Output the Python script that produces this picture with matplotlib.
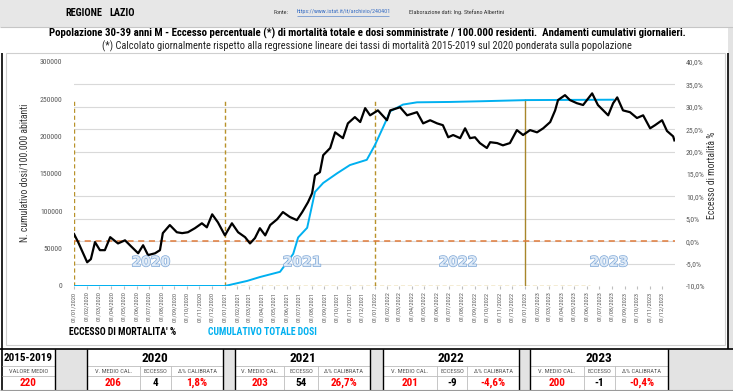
import matplotlib
matplotlib.use('Agg')
import matplotlib.pyplot as plt
import matplotlib.dates as mdates
from matplotlib.ticker import FuncFormatter, MultipleLocator
from matplotlib.patches import Rectangle
from matplotlib import font_manager
import matplotlib.patheffects as pe
import pandas as pd

names = {f.name for f in font_manager.fontManager.ttflist}
NARROW = next((n for n in ['Liberation Sans Narrow', 'Roboto Condensed', 'Open Sans Condensed', 'Liberation Sans'] if n in names), 'DejaVu Sans')
plt.rcParams['font.family'] = [NARROW, 'DejaVu Sans']

# ---------------- data ----------------
excess_dates = ['2020-01-01', '2020-01-11', '2020-02-02', '2020-02-11', '2020-02-21', '2020-03-04', '2020-03-16',
                '2020-03-29', '2020-04-17', '2020-05-04', '2020-05-16', '2020-06-05', '2020-06-17', '2020-06-29',
                '2020-07-16', '2020-07-28', '2020-08-04', '2020-08-21', '2020-09-07', '2020-09-20', '2020-10-04',
                '2020-10-21', '2020-11-07', '2020-11-19', '2020-12-02', '2020-12-16', '2021-01-02', '2021-01-19',
                '2021-02-03', '2021-02-20', '2021-03-04', '2021-03-16', '2021-03-28', '2021-04-10', '2021-04-22',
                '2021-05-09', '2021-05-23', '2021-06-09', '2021-06-26', '2021-07-09', '2021-07-23', '2021-08-02',
                '2021-08-09', '2021-08-21', '2021-08-29', '2021-09-15', '2021-09-27', '2021-10-16', '2021-10-28',
                '2021-11-14', '2021-11-27', '2021-12-09', '2021-12-21', '2022-01-09', '2022-01-31', '2022-02-08',
                '2022-03-04', '2022-03-21', '2022-04-14', '2022-04-29', '2022-05-16', '2022-06-02', '2022-06-16',
                '2022-06-29', '2022-07-11', '2022-07-28', '2022-08-09', '2022-08-21', '2022-09-02', '2022-09-14',
                '2022-10-01', '2022-10-09', '2022-10-26', '2022-11-09', '2022-11-26', '2022-12-13', '2022-12-28',
                '2023-01-14', '2023-01-31', '2023-02-15', '2023-03-04', '2023-03-16', '2023-03-23', '2023-04-09',
                '2023-04-21', '2023-05-08', '2023-05-23', '2023-06-14', '2023-06-28', '2023-07-23', '2023-08-04',
                '2023-08-14', '2023-08-28', '2023-09-14', '2023-10-01', '2023-10-16', '2023-11-02', '2023-11-14',
                '2023-12-01', '2023-12-13', '2023-12-28', '2023-12-31']
excess_vals = [1.6, -0.2, -4.7, -4.0, -0.2, -2.0, -2.0,
               0.9, -0.5, 0.2, -0.9, -2.7, -0.9, -3.1,
               -2.7, -2.0, 1.8, 3.6, 2.0, 1.8, 2.0,
               2.9, 4.0, 3.1, 6.0, 4.2, 1.3, 4.0,
               2.0, 0.9, -0.5, 0.7, 2.9, 1.3, 3.6,
               4.9, 6.5, 5.4, 4.7, 6.5, 8.7, 10.7,
               14.7, 15.4, 19.2, 20.8, 24.3, 23.0, 26.3,
               27.7, 26.6, 29.7, 28.1, 29.2, 27.0, 29.2,
               29.9, 28.1, 28.8, 26.3, 27.0, 26.3, 25.9,
               23.2, 23.7, 23.0, 25.2, 23.0, 23.2, 21.9,
               20.8, 22.1, 21.9, 21.4, 21.9, 24.8, 23.7,
               24.8, 24.3, 25.2, 26.6, 29.2, 31.5, 32.6,
               31.5, 30.8, 30.4, 33.0, 30.4, 28.1, 30.8,
               32.1, 29.2, 28.8, 27.5, 28.1, 25.2, 25.9,
               27.0, 24.6, 23.4, 22.5]

dose_dates = ['2020-01-01', '2021-01-02', '2021-02-25', '2021-03-28', '2021-05-16', '2021-06-17', '2021-06-29',
              '2021-07-21', '2021-08-09', '2021-08-29', '2021-10-02', '2021-11-02', '2021-12-13', '2022-01-02',
              '2022-01-22', '2022-02-08', '2022-03-11', '2022-04-14', '2022-07-04', '2022-09-22', '2023-01-07',
              '2023-08-04']
dose_vals = [0, 0, 6800, 12000, 19000, 43000, 65000,
             78000, 126000, 138000, 151000, 162000, 169000, 189000,
             213000, 234000, 243000, 246000, 246500, 247500, 249000,
             249500]

year_starts = ['2020-01-01', '2021-01-01', '2022-01-01', '2023-01-01']
year_labels = ['2020', '2021', '2022', '2023']
year_label_dates = ['2020-07-06', '2021-07-09', '2022-07-23', '2023-07-25']

base_period = '2015-2019'
base_value = 220
tab_years = ['2020', '2021', '2022', '2023']
tab_vmedio = [206, 203, 201, 200]
tab_eccesso = [4, 54, -9, -1]
tab_delta = ['1,8%', '26,7%', '-4,6%', '-0,4%']

W, H = 733, 391
fig = plt.figure(figsize=(W / 100, H / 100), dpi=100)
fig.patch.set_facecolor('white')

bg = fig.add_axes([0, 0, 1, 1])
bg.set_xlim(0, W)
bg.set_ylim(H, 0)
bg.axis('off')
bg.set_zorder(0)

def rect(x0, y0, x1, y1, fc='none', ec='none', lw=0.8, z=1):
    bg.add_patch(Rectangle((x0, y0), x1 - x0, y1 - y0, facecolor=fc, edgecolor=ec, linewidth=lw, zorder=z))

def line(x0, y0, x1, y1, c='black', lw=1.0, z=3):
    bg.plot([x0, x1], [y0, y1], color=c, lw=lw, zorder=z, solid_capstyle='butt')

GRAYF = '#e3e3e3'
# header band
rect(0, 0, W, 27, fc='#e7e7e7', ec='none')
line(0, 27, W, 27, c='#c6c6c6', lw=0.8)
bg.text(65, 13, 'REGIONE', fontsize=7.4, fontweight='bold', ha='left', va='center')
bg.text(109, 13, 'LAZIO', fontsize=7.4, fontweight='bold', ha='left', va='center')
bg.text(273, 12, 'Fonte:', fontsize=4.4, ha='left', va='center', color='#333333')
bg.text(297, 12, 'https://www.istat.it/it/archivio/240401', fontsize=4.4, ha='left', va='center',
        color='#3a6fc4')
line(297, 15.5, 389, 15.5, c='#3a6fc4', lw=0.4)
bg.text(409, 12, 'Elaborazione dati: Ing. Stefano Albertini', fontsize=4.4, ha='left', va='center',
        color='#333333')

# titles
bg.text(367, 33.5, 'Popolazione 30-39 anni M - Eccesso percentuale (*) di mortalità totale e dosi somministrate / '
        '100.000 residenti.  Andamenti cumulativi giornalieri.', fontsize=7.8, fontweight='bold',
        ha='center', va='center')
bg.text(367, 46, '(*) Calcolato giornalmente rispetto alla regressione lineare dei tassi di mortalità 2015-2019 '
        'sul 2020 ponderata sulla popolazione', fontsize=7.5, ha='center', va='center', color='#222222')

# frames
rect(728, 27, W, 349, fc=GRAYF)
rect(6, 53, 725, 345, fc='white', ec='#cfcfcf', lw=0.8)
line(2, 53, 2, H, c='black', lw=1.2)
line(728, 53, 728, 349, c='black', lw=1.2)

# legend-like texts
bg.text(69, 332, "ECCESSO DI MORTALITA' %", fontsize=7.0, fontweight='bold', ha='left', va='center',
        color='black')
bg.text(208, 332, 'CUMULATIVO TOTALE DOSI', fontsize=7.0, fontweight='bold', ha='left', va='center',
        color='#00b0f0')

# ---------------- table ----------------
ytop, yrow1, yrow2, ybot = 349, 366, 376, 390
rect(0, ytop, W, H, fc='white')
gaps = [(55, 87), (223, 235), (370, 383), (519, 530), (668, W)]
for g0, g1 in gaps:
    rect(g0, ytop, g1, ybot, fc=GRAYF)
blocks = [(87, 140, 171, 223), (235, 284, 318, 370), (383, 437, 467, 519), (530, 584, 615, 668)]
thin = '#bdbdbd'
line(2, yrow1, 55, yrow1, c=thin, lw=0.6)
line(2, yrow2, 55, yrow2, c=thin, lw=0.6)
bg.text(28.5, 358, base_period, fontsize=8, fontweight='bold', ha='center', va='center')
bg.text(28.5, 371.2, 'VALORE MEDIO', fontsize=4.6, ha='center', va='center', color='#555555')
bg.text(28.5, 383, str(base_value), fontsize=8, fontweight='bold', ha='center', va='center', color='red')
for (b0, b1, b2, b3), yr, vm, ec_, dl in zip(blocks, tab_years, tab_vmedio, tab_eccesso, tab_delta):
    line(b0, yrow1, b3, yrow1, c=thin, lw=0.6)
    line(b0, yrow2, b3, yrow2, c=thin, lw=0.6)
    for xb in (b1, b2):
        line(xb, yrow1, xb, ybot, c=thin, lw=0.6)
    bg.text((b0 + b3) / 2, 358, yr, fontsize=9.5, fontweight='bold', ha='center', va='center')
    bg.text((b0 + b1) / 2, 371.2, 'V. MEDIO CAL.', fontsize=4.6, ha='center', va='center', color='#555555')
    bg.text((b1 + b2) / 2, 371.2, 'ECCESSO', fontsize=4.6, ha='center', va='center', color='#555555')
    bg.text((b2 + b3) / 2, 371.2, 'Δ% CALIBRATA', fontsize=4.6, ha='center', va='center', color='#555555')
    bg.text((b0 + b1) / 2, 383, str(vm), fontsize=8, fontweight='bold', ha='center', va='center', color='red')
    bg.text((b1 + b2) / 2, 383, str(ec_), fontsize=8, fontweight='bold', ha='center', va='center', color='black')
    bg.text((b2 + b3) / 2, 383, dl, fontsize=8, fontweight='bold', ha='center', va='center', color='red')
line(0, ytop, W, ytop, c='black', lw=1.2)
for xv in (55, 87, 223, 235, 370, 383, 519, 530, 668):
    line(xv, ytop, xv, ybot, c='black', lw=1.0)
line(0, ybot, W, ybot, c='#9a9a9a', lw=0.8)

# ---------------- chart ----------------
x_left, x_right, y_top, y_bot = 73.6, 674.8, 62, 286
ax = fig.add_axes([x_left / W, 1 - y_bot / H, (x_right - x_left) / W, (y_bot - y_top) / H])
ax.set_zorder(2)
ax.patch.set_alpha(0)
ax2 = ax.twinx()
ax2.set_zorder(3)
ax2.patch.set_alpha(0)

ed = pd.to_datetime(excess_dates)
dd = pd.to_datetime(dose_dates)
ys = pd.to_datetime(year_starts)

ax.set_xlim(pd.Timestamp('2019-12-31'), pd.Timestamp('2024-01-01'))
ax.set_ylim(0, 300000)
ax2.set_ylim(-10, 40)

ax.yaxis.set_major_locator(MultipleLocator(50000))
ax.yaxis.set_minor_locator(MultipleLocator(30000))
ax.grid(which='minor', axis='y', color='#d9d9d9', lw=0.8)
ax.tick_params(axis='y', which='minor', length=0)
ax.tick_params(axis='y', which='major', length=0, labelsize=5.6, labelcolor='#595959', pad=8)
ax.yaxis.set_major_formatter(FuncFormatter(lambda v, p: f'{int(v)}'))

ax2.yaxis.set_major_locator(MultipleLocator(5))
ax2.yaxis.set_major_formatter(FuncFormatter(lambda v, p: f'{v:.1f}%'.replace('.', ',')))
ax2.tick_params(axis='y', length=0, labelsize=5.6, labelcolor='#595959', pad=8)

month_ticks = pd.date_range('2020-01-01', '2023-12-01', freq='MS')
ax.set_xticks(month_ticks)
ax.xaxis.set_major_formatter(mdates.DateFormatter('%d/%m/%Y'))
ax.tick_params(axis='x', rotation=90, labelsize=4.6, labelcolor='#595959', length=2, color='#bfbfbf', pad=2)

for a in (ax, ax2):
    for s in a.spines.values():
        s.set_visible(False)

ax.hlines(0, pd.Timestamp('2020-01-01'), pd.Timestamp('2023-06-09'), colors='#c9a227', linestyles=(0, (3, 2)), lw=1.0,
          zorder=2)
ax.vlines(ys[:3], 0, 250000, colors='#b8922a', linestyles=(0, (3, 2)), lw=1.0, zorder=2)
ax.vlines(ys[3:], 0, 250000, colors='#a8862a', linestyles='solid', lw=1.0, zorder=2)

ax.plot(dd, dose_vals, color='#00b0f0', lw=1.4, zorder=4)

ax2.axhline(0, color='#e07b3a', ls=(0, (4, 3)), lw=1.1, zorder=2)
ax2.plot(ed, excess_vals, color='black', lw=1.6, zorder=5)

for d, lab in zip(pd.to_datetime(year_label_dates), year_labels):
    ax2.text(d, -4.7, lab, fontsize=10, fontweight='bold', ha='center', va='center', color='#dde9f6',
             family='DejaVu Sans', zorder=6,
             path_effects=[pe.withStroke(linewidth=1.0, foreground='#7fa8d8')])

fig.text(25 / W, 1 - 173 / H, 'N. cumulativo dosi/100.000 abitanti', rotation=90, ha='center', va='center',
         fontsize=7.0, color='#333333')
fig.text(712 / W, 1 - 175 / H, 'Eccesso di mortalità %', rotation=90, ha='center', va='center',
         fontsize=7.0, color='#333333')

fig.savefig('out.png', dpi=100, facecolor='white')
